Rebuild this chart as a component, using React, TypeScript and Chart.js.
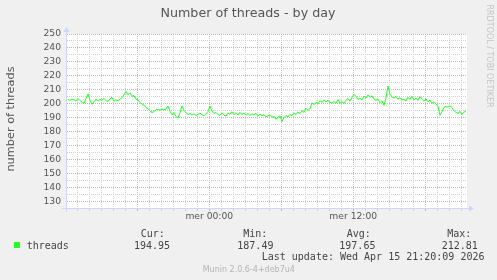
import React, { useEffect, useRef } from "react";
import { Chart, registerables } from "chart.js";

Chart.register(...registerables);

// ---------- data ----------
const TITLE = "Number of threads - by day";
const Y_TITLE = "number of threads";
const SERIES_NAME = "threads";
const WATERMARK = "RRDTOOL / TOBI OETIKER";
const FOOTER = "Munin 2.0.6-4+deb7u4";
const LAST_UPDATE = "Last update: Wed Apr 15 21:20:09 2026";

// hours relative to "mer 00:00"
const START_HOUR = -11.775;
const STEP_HOUR = 1 / 6; // 10 minute samples
const X_MIN = -11.94;
const X_MAX = 21.48;
const Y_MIN = 125.7;
const Y_MAX = 250;

const X_TICK_LABELS: Record<number, string> = { 0: "mer 00:00", 12: "mer 12:00" };

const STAT_LABELS = ["Cur:", "Min:", "Avg:", "Max:"];
const STAT_VALUES = ["194.95", "187.49", "197.65", "212.81"];

const THREADS = [
  203.2, 202.6, 203.5, 203.0, 202.2, 203.8, 202.5, 201.4, 200.2, 204.0,
  207.2, 202.8, 199.8, 201.5, 203.5, 202.0, 203.2, 202.6, 203.9, 202.4,
  201.8, 203.6, 204.6, 202.0, 203.0, 202.3, 203.4, 204.5, 206.5, 209.0,
  206.5, 208.0, 205.5, 206.0, 203.5, 203.0, 201.0, 200.0, 199.2, 197.5,
  196.8, 195.0, 193.8, 194.6, 195.8, 196.0, 195.6, 196.3, 195.8, 196.4,
  198.5, 194.8, 192.2, 193.8, 191.0, 189.8, 194.0, 198.6, 195.5, 193.8,
  192.5, 193.2, 192.0, 193.0, 191.8, 192.6, 193.5, 192.2, 191.5, 193.0,
  194.5, 198.6, 195.0, 193.2, 194.0, 192.5, 191.8, 193.5, 192.0, 191.4,
  193.6, 192.5, 194.5, 192.5, 193.8, 192.2, 194.0, 192.5, 193.5, 192.0,
  193.2, 191.8, 193.0, 192.2, 193.4, 191.5, 192.8, 191.6, 192.4, 190.8,
  191.5, 192.0, 190.5, 191.2, 189.0, 190.6, 191.5, 187.5, 190.2, 191.8,
  190.8, 192.5, 191.6, 193.5, 192.4, 194.2, 193.0, 195.2, 194.0, 197.0,
  195.5, 196.5, 200.8, 199.5, 201.2, 200.0, 202.5, 201.0, 203.0, 201.5,
  202.8, 201.2, 200.6, 201.8, 200.4, 203.2, 200.5, 201.8, 200.2, 202.6,
  204.0, 202.0, 204.5, 207.0, 205.5, 203.2, 204.0, 202.8, 205.6, 204.2,
  206.5, 204.8, 205.8, 203.6, 202.5, 203.5, 201.0, 202.2, 199.0, 204.0,
  212.8, 207.0, 205.0, 204.2, 205.5, 203.4, 204.6, 202.8, 203.5, 202.0,
  204.8, 203.2, 205.6, 203.0, 204.2, 202.6, 205.2, 203.4, 202.0, 203.6,
  201.5, 202.8, 200.5, 201.6, 200.0, 198.5, 192.0, 194.5, 197.5, 198.2,
  197.8, 198.6, 197.5, 195.2, 194.0, 193.2, 194.8, 192.5, 194.2, 194.95,
];

// ---------- styles ----------
const BG = "#F0F0F0";
const CANVAS_BG = "#FFFFFF";
const LINE = "#22ff22";
const AXIS = "#CFD6F8";
const MAJOR = "#e8a4a4";
const MINOR = "#cfcfcf";
const FONT_COL = "#555555";
const SANS = "'DejaVu Sans', sans-serif";
const MONO = "'DejaVu Sans Mono', monospace";

const muninPlugin = {
  id: "munin",
  beforeDraw(chart: any) {
    const { ctx, chartArea: a } = chart;
    ctx.save();
    ctx.fillStyle = BG;
    ctx.fillRect(0, 0, chart.width, chart.height);
    ctx.fillStyle = CANVAS_BG;
    ctx.fillRect(a.left, a.top, a.right - a.left, a.bottom - a.top);
    ctx.restore();
  },
  afterDraw(chart: any) {
    const { ctx, chartArea: a } = chart;
    ctx.save();
    // axis extensions and arrows
    const x0 = a.left + 0.5;
    const yb = a.bottom + 0.5;
    ctx.strokeStyle = AXIS;
    ctx.lineWidth = 1;
    ctx.beginPath();
    ctx.moveTo(x0, a.bottom + 4);
    ctx.lineTo(x0, a.top - 3);
    ctx.moveTo(a.left - 4, yb);
    ctx.lineTo(a.right + 3, yb);
    ctx.stroke();
    ctx.fillStyle = AXIS;
    ctx.beginPath();
    ctx.moveTo(x0 - 3, a.top - 2);
    ctx.lineTo(x0 + 3, a.top - 2);
    ctx.lineTo(x0, a.top - 7);
    ctx.closePath();
    ctx.fill();
    ctx.beginPath();
    ctx.moveTo(a.right + 2, yb - 3);
    ctx.lineTo(a.right + 2, yb + 3);
    ctx.lineTo(a.right + 7, yb);
    ctx.closePath();
    ctx.fill();

    // title
    ctx.fillStyle = FONT_COL;
    ctx.font = `12.7px ${SANS}`;
    ctx.textAlign = "center";
    ctx.textBaseline = "middle";
    ctx.fillText(TITLE, 248, 14);

    // y-axis title
    ctx.save();
    ctx.translate(11, 119);
    ctx.rotate(-Math.PI / 2);
    ctx.font = `11.3px ${SANS}`;
    ctx.fillText(Y_TITLE, 0, 0);
    ctx.restore();

    // watermark
    ctx.save();
    ctx.translate(489.5, 56);
    ctx.rotate(Math.PI / 2);
    ctx.font = `8px ${SANS}`;
    ctx.fillStyle = "#c4c4c4";
    ctx.fillText(WATERMARK, 0, 0);
    ctx.restore();

    // legend
    ctx.fillStyle = LINE;
    ctx.fillRect(14, 242, 6, 6);
    ctx.fillStyle = "#444444";
    ctx.font = `10px ${MONO}`;
    ctx.textAlign = "left";
    ctx.textBaseline = "alphabetic";
    ctx.fillText(SERIES_NAME, 26.7, 249);
    const labelX = [140.7, 243.3, 346.7, 447.3];
    const valueX = [134, 237.3, 339.3, 441.7];
    STAT_LABELS.forEach((t, i) => ctx.fillText(t, labelX[i], 237));
    STAT_VALUES.forEach((t, i) => ctx.fillText(t, valueX[i], 249));
    ctx.fillText(LAST_UPDATE, 261.7, 260);

    // footer
    ctx.fillStyle = "#b4b4b4";
    ctx.font = `8px ${SANS}`;
    ctx.fillText(FOOTER, 202.7, 272);
    ctx.restore();
  },
};

export default function App() {
  const ref = useRef<HTMLCanvasElement>(null);
  useEffect(() => {
    document.body.style.margin = "0";
    const canvas = ref.current;
    if (!canvas) return;
    const points = THREADS.map((v, i) => ({ x: START_HOUR + i * STEP_HOUR, y: v }));
    const chart = new Chart(canvas, {
      type: "line",
      data: {
        datasets: [
          {
            label: SERIES_NAME,
            data: points,
            borderColor: LINE,
            borderWidth: 1,
            pointRadius: 0,
            tension: 0,
            fill: false,
          },
        ],
      },
      options: {
        responsive: false,
        animation: false,
        events: [],
        layout: { padding: { left: 0, right: 30, top: 34, bottom: 0 } },
        plugins: {
          legend: { display: false },
          title: { display: false },
          tooltip: { enabled: false },
        },
        scales: {
          x: {
            type: "linear",
            min: X_MIN,
            max: X_MAX,
            afterFit: (s: any) => {
              s.height = 72;
            },
            border: { display: true, color: AXIS, width: 1, dash: [1, 1] },
            grid: {
              color: (c: any) =>
                c.tick && Math.round(c.tick.value) % 6 === 0 ? MAJOR : MINOR,
              lineWidth: 1,
              tickLength: 3,
              drawTicks: true,
            },
            ticks: {
              stepSize: 1,
              includeBounds: false,
              autoSkip: false,
              maxRotation: 0,
              minRotation: 0,
              padding: 0,
              color: FONT_COL,
              font: { family: SANS, size: 9.2 },
              callback: (v: any) => X_TICK_LABELS[Math.round(Number(v))] ?? "",
            },
          },
          y: {
            type: "linear",
            min: Y_MIN,
            max: Y_MAX,
            afterFit: (s: any) => {
              s.width = 66;
            },
            border: { display: true, color: AXIS, width: 1, dash: [1, 1] },
            grid: {
              color: (c: any) =>
                c.tick && Math.round(c.tick.value) % 10 === 0 ? MAJOR : MINOR,
              lineWidth: 1,
              drawTicks: false,
            },
            ticks: {
              stepSize: 5,
              includeBounds: false,
              autoSkip: false,
              padding: 5,
              color: FONT_COL,
              font: { family: SANS, size: 9.2 },
              callback: (v: any) =>
                Math.round(Number(v)) % 10 === 0 ? String(Math.round(Number(v))) : "",
            },
          },
        },
      },
      plugins: [muninPlugin],
    } as any);
    return () => chart.destroy();
  }, []);
  return (
    <div style={{ position: "relative", width: 497, height: 280 }}>
      <canvas ref={ref} width={497} height={280} style={{ display: "block", width: 497, height: 280 }} />
    </div>
  );
}
